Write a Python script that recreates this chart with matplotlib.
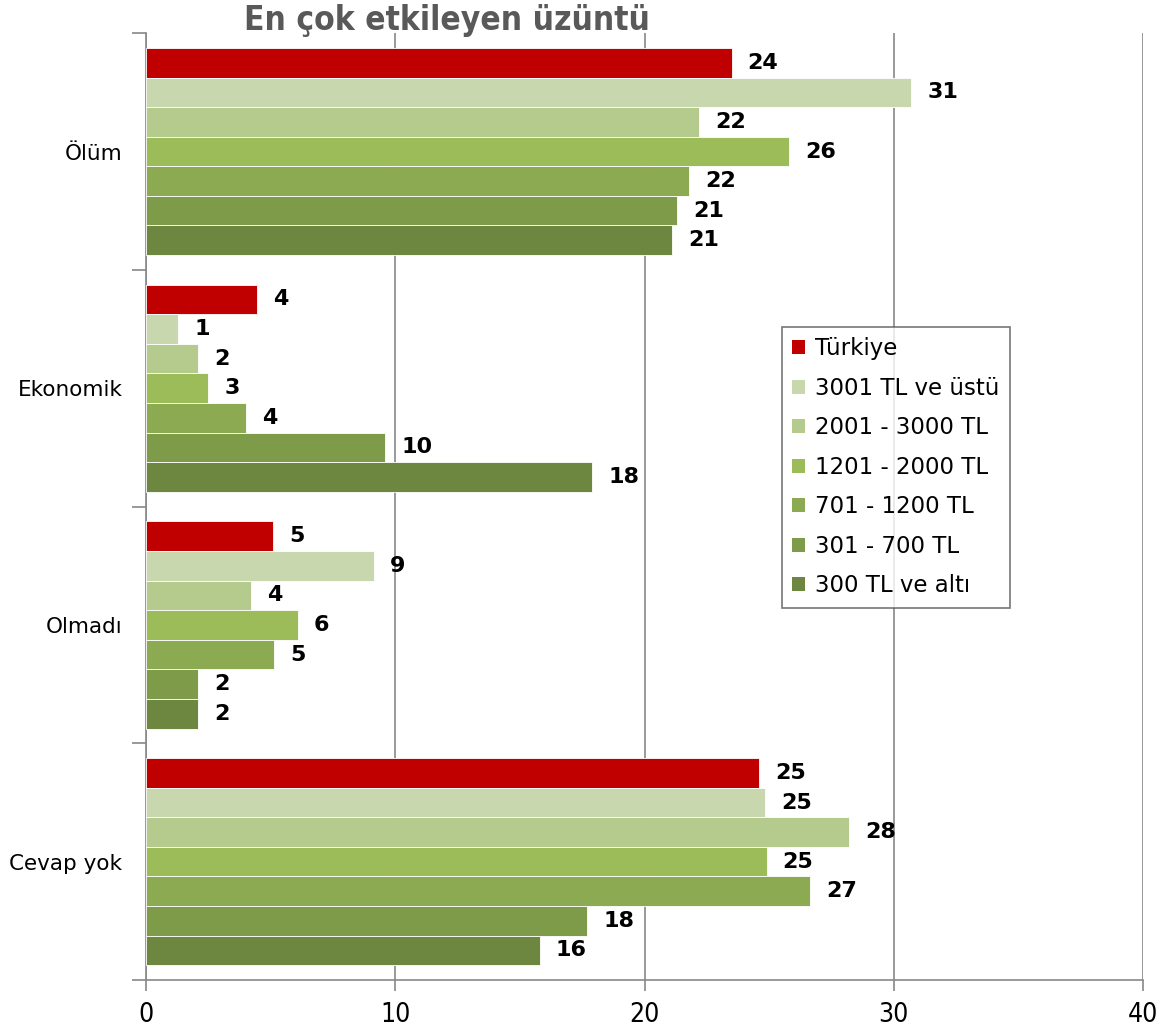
import math

import matplotlib
matplotlib.use('Agg')
import matplotlib.pyplot as plt
import numpy as np

categories = ['Ölüm', 'Ekonomik', 'Olmadı', 'Cevap yok']
series_names = ['Türkiye', '3001 TL ve üstü', '2001 - 3000 TL', '1201 - 2000 TL',
                '701 - 1200 TL', '301 - 700 TL', '300 TL ve altı']
series_colors = ['#C00000', '#C8D7AE', '#B4CB8D', '#9CBC5A', '#8CAA52', '#7E9B4A', '#6E8740']

turkiye = [23.5, 4.45, 5.1, 24.6]
tl_3001_ustu = [30.7, 1.3, 9.15, 24.85]
tl_2001_3000 = [22.2, 2.1, 4.2, 28.2]
tl_1201_2000 = [25.8, 2.5, 6.1, 24.9]
tl_701_1200 = [21.8, 4.0, 5.15, 26.65]
tl_301_700 = [21.3, 9.6, 2.1, 17.7]
tl_300_alti = [21.1, 17.9, 2.1, 15.8]

all_values = [turkiye, tl_3001_ustu, tl_2001_3000, tl_1201_2000,
              tl_701_1200, tl_301_700, tl_300_alti]

x_ticks = [0, 10, 20, 30, 40]

GRID_COLOR = '#888888'


def label_text(v):
    # excel style rounding, half goes up
    return str(int(math.floor(v + 0.5)))


fig = plt.figure(figsize=(11.68, 10.36), dpi=100)
ax = fig.add_axes([0.125, 0.054, 0.8536, 0.914])

n = len(series_names)
h = 1.0 / (n + 1)
ypos = np.arange(len(categories))

for i, (name, vals, color) in enumerate(zip(series_names, all_values, series_colors)):
    y = ypos + (i - (n - 1) / 2) * h
    bars = ax.barh(y, vals, height=h, color=color, edgecolor='white', linewidth=0.6,
                   label=name, zorder=3)
    for bar, v in zip(bars, vals):
        ax.annotate(label_text(v), (v, bar.get_y() + bar.get_height() / 2),
                    xytext=(16, 0), textcoords='offset pixels',
                    va='center', ha='left', fontsize=16, fontweight='heavy',
                    color='black', zorder=4)

ax.set_xlim(0, 40)
ax.set_ylim(len(categories) - 0.5, -0.5)
ax.set_xticks(x_ticks)
ax.set_xticklabels([str(t) for t in x_ticks], fontsize=19, fontstretch='condensed')
ax.set_yticks(ypos)
ax.set_yticklabels(categories, fontsize=15.5)
ax.set_yticks(np.arange(len(categories) + 1) - 0.5, minor=True)
ax.tick_params(axis='y', which='major', length=0, pad=17)
ax.tick_params(axis='y', which='minor', length=10, color=GRID_COLOR, width=1.2)
ax.tick_params(axis='x', length=8, color=GRID_COLOR, width=1.2, pad=8)

ax.grid(axis='x', color=GRID_COLOR, linewidth=1.2, zorder=0)
for side in ['top', 'right']:
    ax.spines[side].set_visible(False)
for side in ['left', 'bottom']:
    ax.spines[side].set_color(GRID_COLOR)
    ax.spines[side].set_linewidth(1.2)

leg = ax.legend(loc='upper left', bbox_to_anchor=(0.638, 0.6895), fontsize=16.5,
                frameon=True, fancybox=False, edgecolor='#555555',
                handlelength=0.55, handleheight=0.55, handletextpad=0.45,
                labelspacing=0.72, borderpad=0.45, borderaxespad=0)
leg.get_frame().set_linewidth(1.2)
for patch in leg.get_patches():
    patch.set_edgecolor('none')

fig.text(0.383, 0.98, 'En çok etkileyen üzüntü', ha='center', va='center',
         fontsize=24, fontweight='heavy', color='#595959', fontstretch='condensed')

fig.savefig('out.png', dpi=100)
